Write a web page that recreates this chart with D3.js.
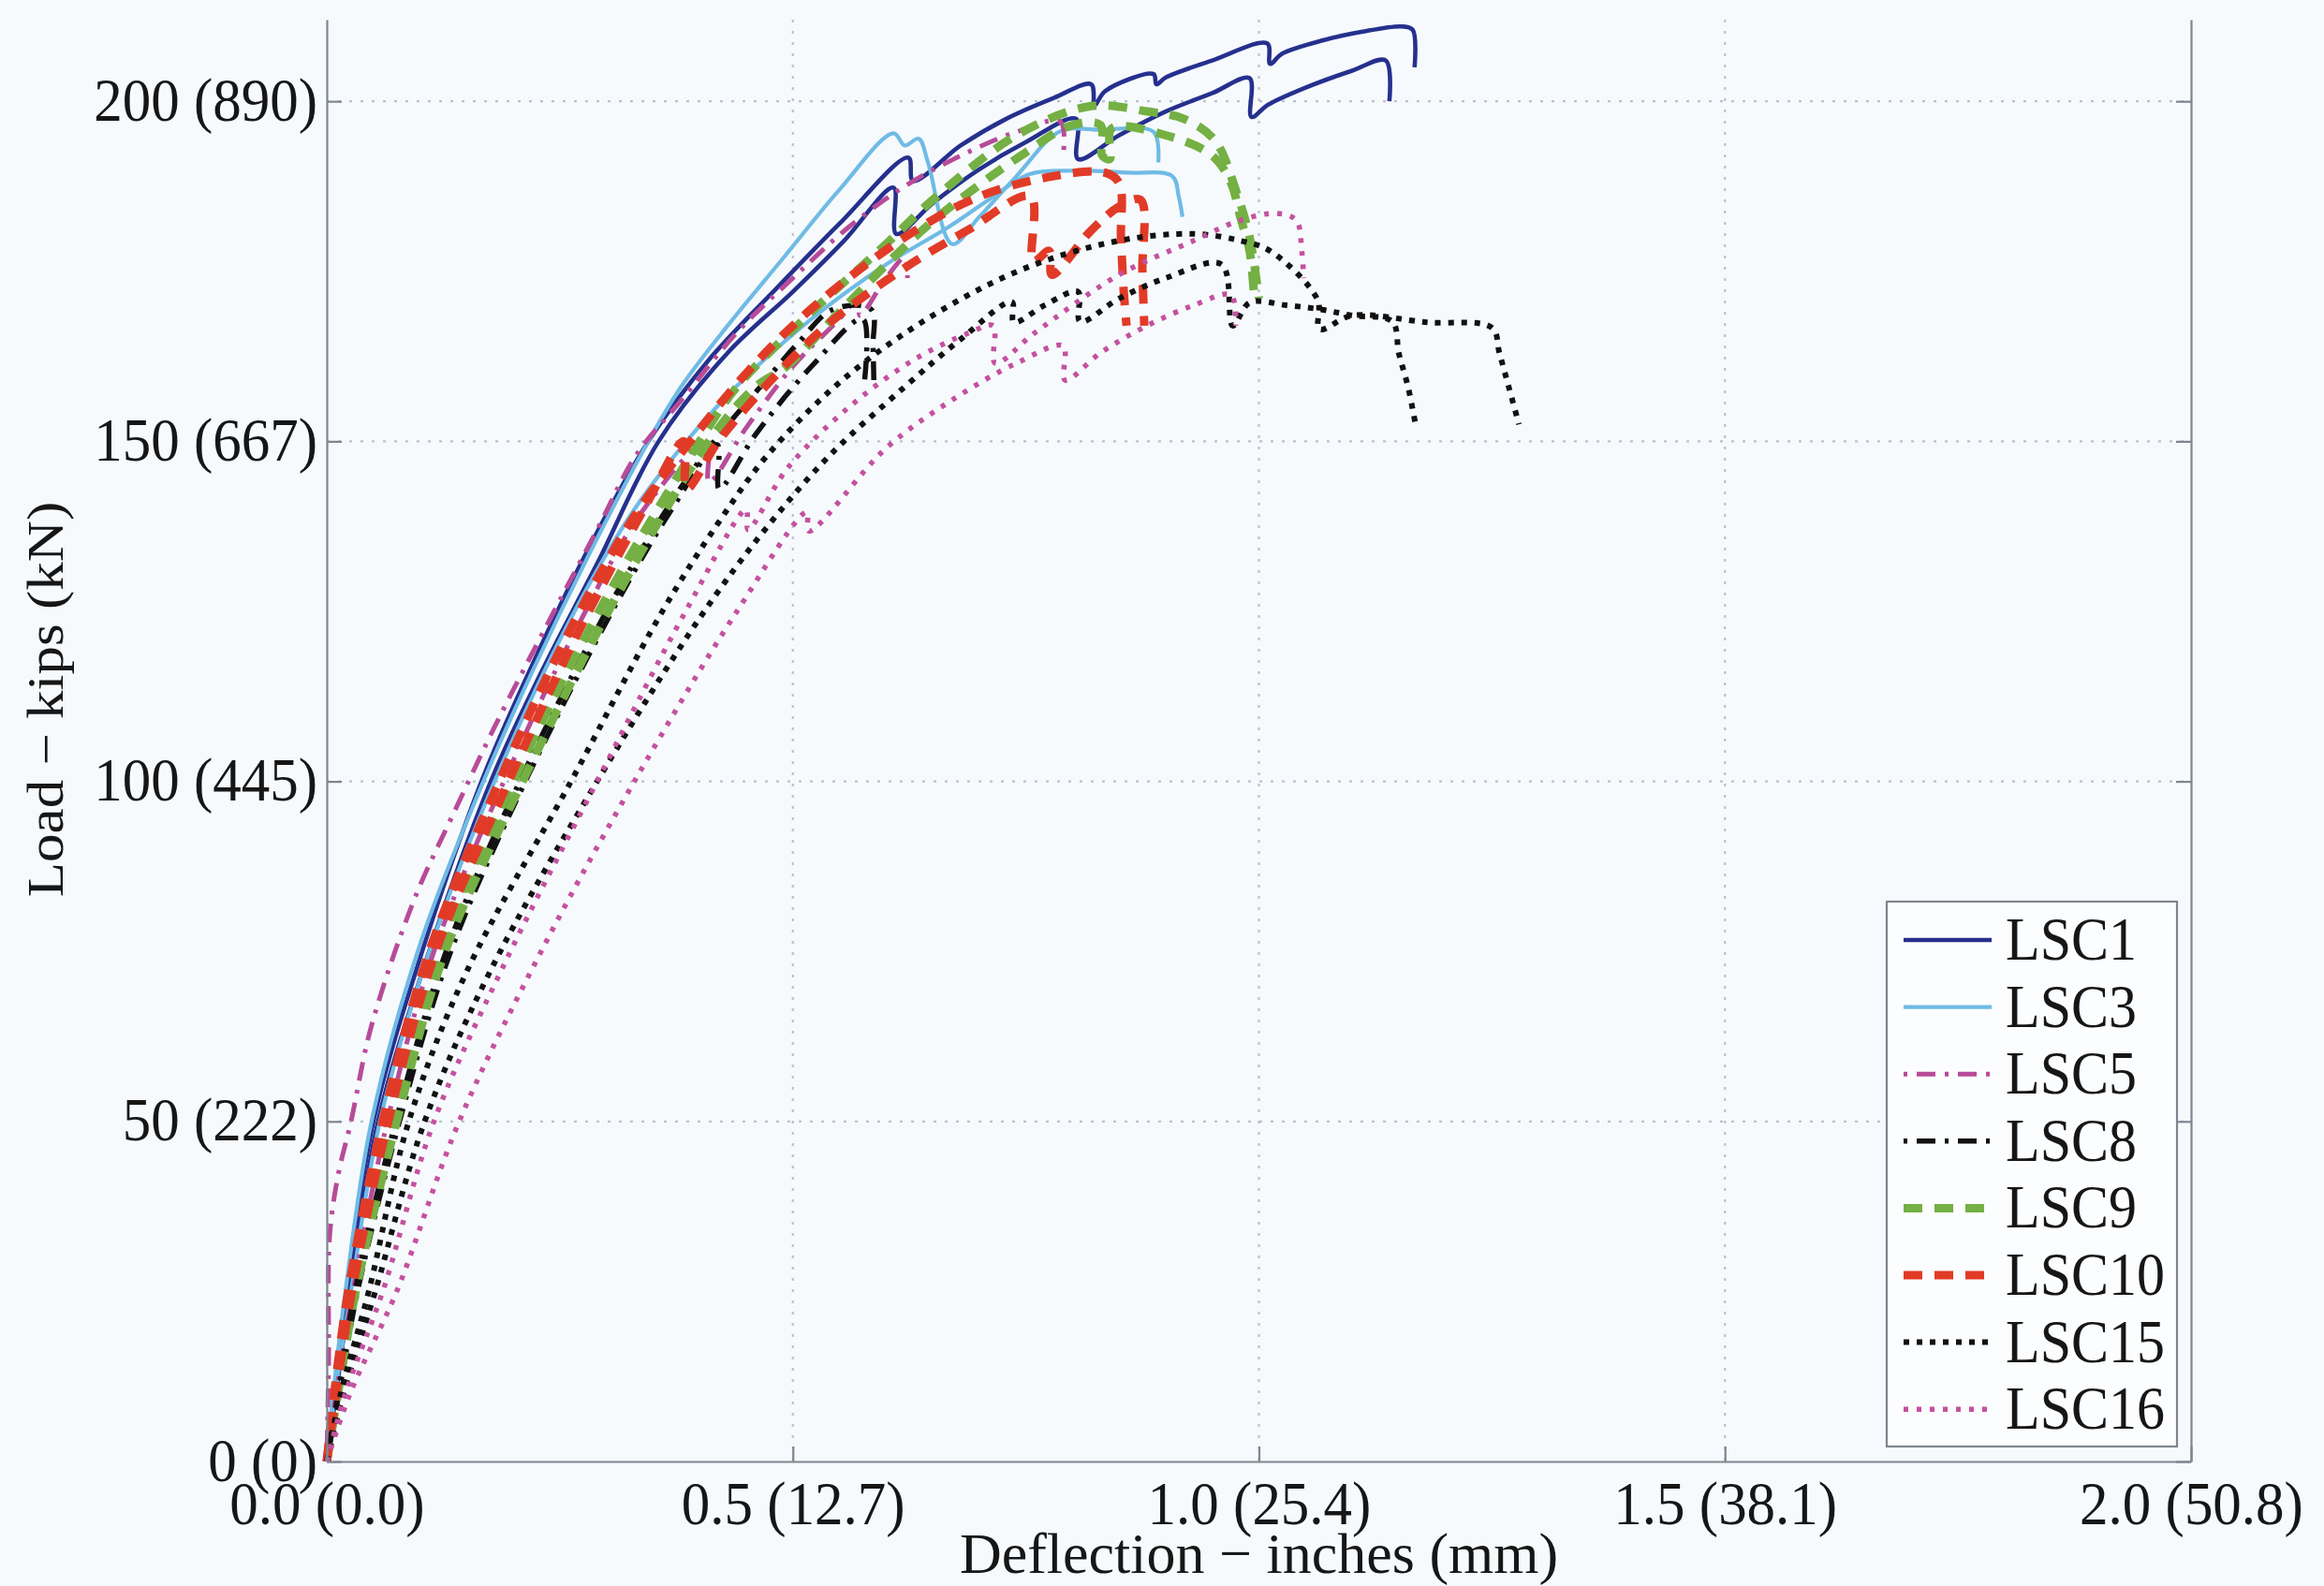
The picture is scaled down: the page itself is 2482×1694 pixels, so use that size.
<!DOCTYPE html>
<html><head><meta charset="utf-8">
<script src="https://cdn.jsdelivr.net/npm/d3@7"></script>
<style>
html,body{margin:0;padding:0;background:#f7fafd;}
svg{display:block;}
text{font-family:"Liberation Serif","Times New Roman",serif;}
</style></head><body>
<svg id="chart" width="2482" height="1694"></svg>
<script>
// ---------------- data ----------------
const xTickValues = [0, 0.5, 1.0, 1.5, 2.0];
const xTickLabels = ["0.0 (0.0)", "0.5 (12.7)", "1.0 (25.4)", "1.5 (38.1)", "2.0 (50.8)"];
const yTickValues = [0, 50, 100, 150, 200];
const yTickLabels = ["0 (0)", "50 (222)", "100 (445)", "150 (667)", "200 (890)"];
const seriesNames = ["LSC1", "LSC3", "LSC5", "LSC8", "LSC9", "LSC10", "LSC15", "LSC16"];
const xTitle = "Deflection \u2212 inches (mm)";
const yTitle = "Load \u2212 kips (kN)";

// deflection (in), load (kips) – two measured curves per specimen
const lsc1a = [[0,0],[0.008,10],[0.022,25],[0.05,50],[0.1,74],[0.166,100],[0.22,117],[0.28,134],[0.345,150],[0.41,162],[0.486,173],[0.55,182],[0.624,191.7],[0.629,188.3],[0.68,193.5],[0.73,197.5],[0.78,200.5],[0.82,202.5],[0.824,199.5],[0.835,201.5],[0.887,204],[0.89,202.5],[0.9,203.5],[0.95,206],[1.009,208.5],[1.012,205.5],[1.025,207],[1.07,209],[1.11,210.2],[1.153,211],[1.165,210.5],[1.167,205]];
const lsc1b = [[0,0],[0.01,10],[0.025,25],[0.055,50],[0.105,73],[0.176,100],[0.23,116],[0.29,132],[0.356,150],[0.43,163],[0.5,172],[0.555,179.5],[0.608,187.3],[0.611,180.5],[0.65,185],[0.7,190],[0.75,194],[0.804,197.4],[0.806,191.5],[0.85,195],[0.9,198.5],[0.95,201.2],[0.99,203.4],[0.992,197.7],[1.01,199.5],[1.05,202],[1.1,204.5],[1.136,206],[1.14,200]];
const lsc3a = [[0,0],[0.007,10],[0.02,25],[0.048,50],[0.1,76],[0.168,100],[0.22,116],[0.28,133],[0.345,150],[0.38,158],[0.43,167],[0.49,177],[0.55,187],[0.608,195.3],[0.62,193.5],[0.635,194.5],[0.645,191],[0.671,179],[0.7,183],[0.74,189],[0.787,195.6],[0.83,195.8],[0.887,195.5],[0.892,191]];
const lsc3b = [[0,0],[0.009,10],[0.026,25],[0.057,50],[0.11,75],[0.18,100],[0.262,124],[0.33,140],[0.392,151],[0.45,159.5],[0.52,168],[0.6,176],[0.667,181.5],[0.71,185.5],[0.754,189.3],[0.8,189.8],[0.86,189.5],[0.907,189],[0.914,186],[0.918,183]];
const lsc5a = [[0,0],[0.002,15],[0.003,33],[0.012,42],[0.026,50],[0.044,62],[0.061,70],[0.081,78],[0.101,85],[0.135,95],[0.18,108],[0.24,124],[0.29,137],[0.332,148],[0.38,156],[0.44,166],[0.5,174],[0.56,181.5],[0.62,187.5],[0.68,192],[0.74,195.5],[0.787,197],[0.79,192]];
const lsc5b = [[0,0],[0.01,10],[0.028,25],[0.065,50],[0.115,75],[0.19,100],[0.27,123],[0.34,140],[0.408,150],[0.41,144],[0.45,152],[0.5,161],[0.55,168],[0.57,171],[0.572,168.5],[0.6,174],[0.62,177],[0.623,174]];
const lsc8a = [[0,0],[0.012,10],[0.03,25],[0.074,50],[0.128,75],[0.207,100],[0.3,125],[0.36,139],[0.41,149],[0.47,158.8],[0.506,164.5],[0.543,169.4],[0.584,169.4],[0.586,164],[0.587,158]];
const lsc8b = [[0,0],[0.013,10],[0.033,25],[0.078,50],[0.133,75],[0.213,100],[0.31,126],[0.37,140],[0.419,149.5],[0.421,143],[0.46,151],[0.52,161],[0.575,168],[0.577,159]];
const lsc9a = [[0,0],[0.011,10],[0.028,25],[0.07,50],[0.12,75],[0.2,100],[0.3,127],[0.4,150],[0.44,158],[0.52,169],[0.6,179],[0.65,185.5],[0.74,195],[0.82,199.3],[0.88,198.5],[0.92,197.4],[0.953,194.2],[0.975,187],[0.99,180],[1.0,171]];
const lsc9b = [[0,0],[0.012,10],[0.031,25],[0.075,50],[0.127,75],[0.21,100],[0.31,127],[0.41,150],[0.46,158],[0.493,161],[0.55,169],[0.647,182],[0.75,192.5],[0.8,196.5],[0.83,196.5],[0.832,192],[0.84,191.5],[0.842,196],[0.9,195],[0.95,192],[0.97,188],[0.98,183],[0.99,178],[0.995,171]];
const lsc10a = [[0,0],[0.008,10],[0.023,25],[0.06,50],[0.11,75],[0.185,100],[0.26,122],[0.33,139],[0.39,150],[0.45,160],[0.52,169.5],[0.62,180],[0.7,186],[0.78,189],[0.835,189.5],[0.85,188],[0.852,180],[0.855,172],[0.858,167]];
const lsc10b = [[0,0],[0.01,10],[0.027,25],[0.066,50],[0.117,75],[0.195,100],[0.27,122],[0.34,140],[0.383,150],[0.386,143],[0.42,150],[0.47,158],[0.536,167],[0.62,175.5],[0.687,181],[0.755,186],[0.758,176.5],[0.775,178],[0.778,174.5],[0.82,181],[0.85,184.5],[0.873,185.5],[0.875,175],[0.877,167]];
const lsc15a = [[0,0],[0.015,10],[0.045,25],[0.088,50],[0.15,72],[0.262,100],[0.36,125],[0.42,138],[0.473,148],[0.553,159],[0.65,168.5],[0.75,175.5],[0.85,179.5],[0.93,180.5],[0.98,179.5],[1.012,178],[1.063,170.8],[1.065,166.5],[1.1,168.5],[1.18,167.5],[1.25,166.7],[1.258,163],[1.268,158],[1.279,152.5]];
const lsc15b = [[0,0],[0.018,10],[0.052,25],[0.105,50],[0.175,72],[0.29,100],[0.4,124],[0.47,137],[0.54,148],[0.62,158],[0.68,165],[0.735,170.5],[0.737,167.5],[0.77,170],[0.806,172],[0.808,167.6],[0.85,171],[0.9,174],[0.96,176],[0.972,167],[0.99,170.4],[1.03,170],[1.066,169.4],[1.1,168.5],[1.143,167.6],[1.15,163],[1.16,158],[1.168,152.5]];
const lsc16a = [[0,0],[0.02,10],[0.06,25],[0.115,50],[0.19,73],[0.29,100],[0.385,125],[0.45,140],[0.452,137],[0.494,146],[0.56,155],[0.63,162],[0.69,166],[0.715,167],[0.717,161.5],[0.76,166],[0.85,174.5],[0.93,179.5],[0.98,182.5],[1.02,183.5],[1.04,182.5],[1.046,178],[1.048,174]];
const lsc16b = [[0,0],[0.025,10],[0.075,25],[0.142,50],[0.23,75],[0.33,100],[0.44,125],[0.515,139.6],[0.517,136.8],[0.6,149],[0.67,156],[0.74,161.5],[0.79,164],[0.792,159],[0.83,163],[0.88,167],[0.93,170],[0.97,171.5],[0.975,167]];

const curveData = {
  LSC1: [lsc1a, lsc1b], LSC3: [lsc3a, lsc3b], LSC5: [lsc5a, lsc5b], LSC8: [lsc8a, lsc8b],
  LSC9: [lsc9a, lsc9b], LSC10: [lsc10a, lsc10b], LSC15: [lsc15a, lsc15b], LSC16: [lsc16a, lsc16b]
};

// ---------------- styles ----------------
const styles = {
  LSC1:  {color: "#25308e", width: 4.6, dash: null},
  LSC3:  {color: "#6fbbe5", width: 4.2, dash: null},
  LSC5:  {color: "#b84b99", width: 5,   dash: "4,10,20,10"},
  LSC8:  {color: "#111111", width: 5.5, dash: "4,10,20,10"},
  LSC9:  {color: "#74b043", width: 9,   dash: "20,13"},
  LSC10: {color: "#e13b27", width: 9,   dash: "20,13"},
  LSC15: {color: "#111111", width: 6,   dash: "6,8"},
  LSC16: {color: "#c4519f", width: 5.5, dash: "5,9"}
};
const axisColor = "#7f858f";
const textColor = "#161616";
const TS = 1.08; // vertical stretch of glyphs in the reference

const svg = d3.select("#chart");
const x = d3.scaleLinear().domain([0, 2]).range([349, 2340]);
const y = d3.scaleLinear().domain([0, 212]).range([1561, 21]);

// grid
const grid = svg.append("g");
grid.selectAll("line.gx").data(xTickValues.slice(1, -1)).join("line").attr("class", "gx")
  .attr("x1", d => x(d)).attr("x2", d => x(d)).attr("y1", y(212)).attr("y2", y(0))
  .attr("stroke", "#b9c1cd").attr("stroke-width", 2.2).attr("stroke-dasharray", "3,9");
grid.selectAll("line.gy").data(yTickValues.slice(1)).join("line").attr("class", "gy")
  .attr("y1", d => y(d)).attr("y2", d => y(d)).attr("x1", x(0)).attr("x2", x(2))
  .attr("stroke", "#b9c1cd").attr("stroke-width", 2.2).attr("stroke-dasharray", "3,9");

// curves
svg.append("clipPath").attr("id", "clip").append("rect")
  .attr("x", x(0) - 6).attr("y", 0).attr("width", x(2) - x(0) + 6).attr("height", y(0) + 4);
const lineGen = d3.line().x(d => x(d[0])).y(d => y(d[1])).curve(d3.curveCatmullRom.alpha(0.5));
const plot = svg.append("g").attr("clip-path", "url(#clip)");
seriesNames.forEach(name => {
  const st = styles[name];
  curveData[name].forEach(arr => {
    plot.append("path").datum(arr).attr("d", lineGen)
      .attr("fill", "none").attr("stroke", st.color).attr("stroke-width", st.width)
      .attr("stroke-dasharray", st.dash).attr("stroke-linejoin", "round");
  });
});

// axes
function styleAxis(g) {
  g.select(".domain").attr("stroke", axisColor).attr("stroke-width", 2.2);
  g.selectAll(".tick line").attr("stroke", axisColor).attr("stroke-width", 2.2);
}
const gx = svg.append("g").attr("transform", `translate(0,${y(0)})`)
  .call(d3.axisBottom(x).tickValues(xTickValues).tickFormat((d, i) => xTickLabels[i])
    .tickSizeInner(-16).tickSizeOuter(0).tickPadding(0));
styleAxis(gx);
gx.selectAll(".tick text").attr("fill", textColor).attr("font-size", 61)
  .attr("font-family", "'Liberation Serif', serif")
  .attr("y", 67 / TS).attr("dy", 0).attr("transform", `scale(1,${TS})`);

const gy = svg.append("g").attr("transform", `translate(${x(0)},0)`)
  .call(d3.axisLeft(y).tickValues(yTickValues).tickFormat((d, i) => yTickLabels[i])
    .tickSizeInner(-16).tickSizeOuter(0).tickPadding(10));
styleAxis(gy);
gy.selectAll(".tick text").attr("fill", textColor).attr("font-size", 61)
  .attr("font-family", "'Liberation Serif', serif")
  .attr("dy", 0).attr("y", 20 / TS).attr("transform", `scale(1,${TS})`);

const gr = svg.append("g").attr("transform", `translate(${x(2)},0)`)
  .call(d3.axisRight(y).tickValues(yTickValues).tickFormat("").tickSizeInner(-16).tickSizeOuter(0));
styleAxis(gr);

// axis titles
svg.append("text").attr("fill", textColor).attr("font-size", 62).attr("text-anchor", "middle")
  .attr("transform", `translate(${(x(0) + x(2)) / 2},1680)`).text(xTitle);
svg.append("text").attr("fill", textColor).attr("font-size", 54).attr("text-anchor", "middle")
  .attr("transform", `translate(67,747) scale(1,1.13) rotate(-90)`).text(yTitle);

// legend
const lg = svg.append("g");
lg.append("rect").attr("x", 2015).attr("y", 963).attr("width", 310).attr("height", 582)
  .attr("fill", "#fbfdfe").attr("stroke", axisColor).attr("stroke-width", 2.2);
seriesNames.forEach((name, i) => {
  const cy = 1004 + i * 71.6;
  const st = styles[name];
  lg.append("line").attr("x1", 2033).attr("x2", 2127).attr("y1", cy).attr("y2", cy)
    .attr("stroke", st.color).attr("stroke-width", st.width).attr("stroke-dasharray", st.dash);
  lg.append("text").attr("fill", textColor).attr("font-size", 60)
    .attr("transform", `translate(2142,${cy + 21}) scale(1,${TS})`).text(name);
});
</script>
</body></html>
